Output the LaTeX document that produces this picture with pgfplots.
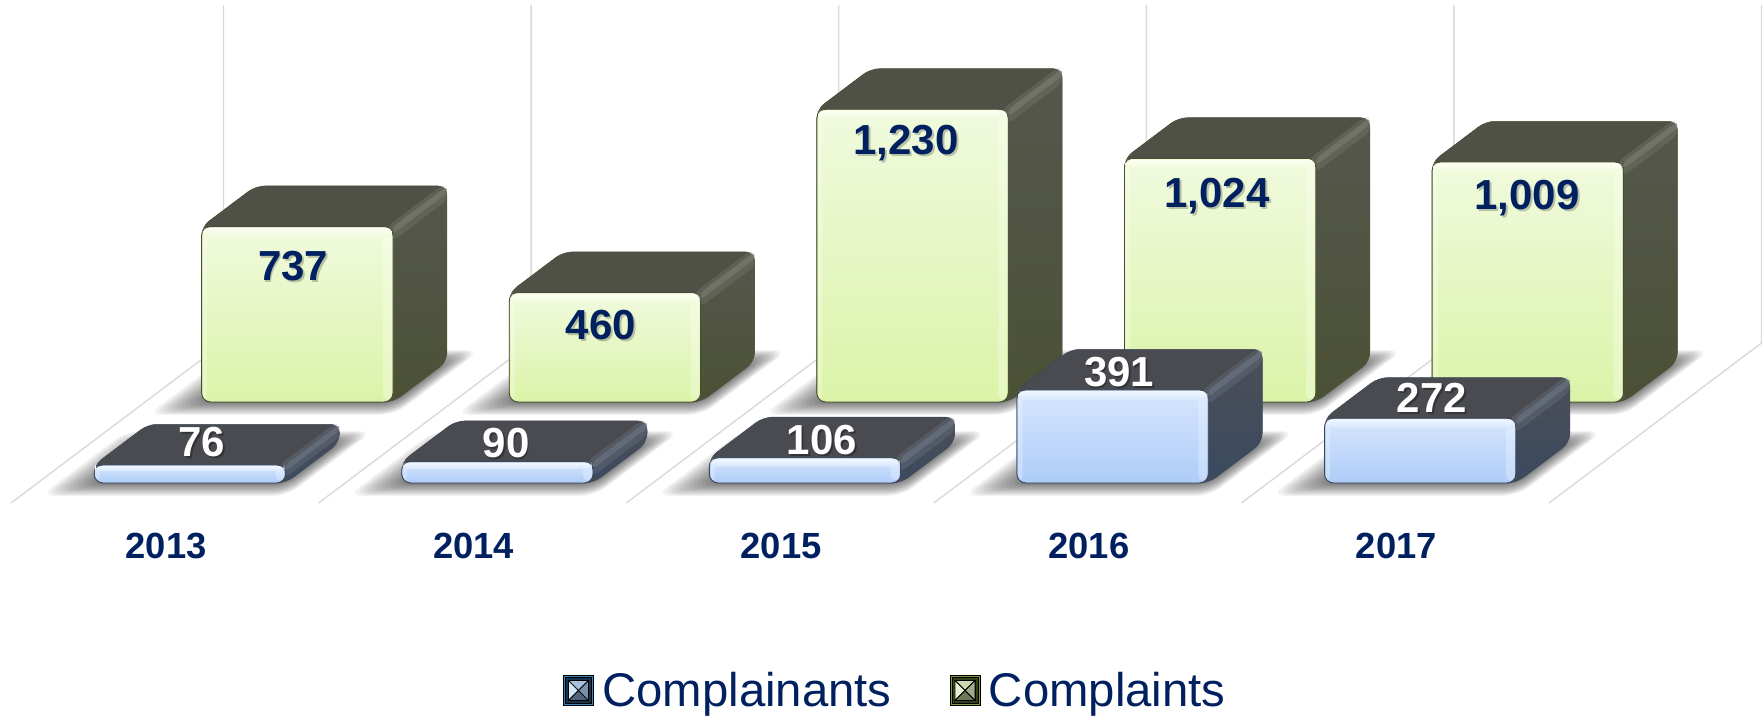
\documentclass[border=0pt]{standalone}
\usepackage{fontspec}
\setmainfont{Liberation Sans}
\usepackage{pgfplots}
\usepackage{pgfplotstable}
\pgfplotsset{compat=1.18}

\definecolor{navy}{RGB}{0,32,96}
\definecolor{gridc}{RGB}{217,217,217}
% complaints
\definecolor{gTop}{RGB}{79,81,71}
\definecolor{gSideT}{RGB}{85,87,77}
\definecolor{gSideB}{RGB}{75,81,53}
\definecolor{gStrip}{RGB}{122,125,112}
\definecolor{gFT}{RGB}{240,250,222}
\definecolor{gFB}{RGB}{219,243,168}
\definecolor{gHi}{RGB}{253,255,240}
\definecolor{gEdge}{RGB}{70,78,48}
% complainants
\definecolor{bTop}{RGB}{73,75,80}
\definecolor{bSideT}{RGB}{76,78,86}
\definecolor{bSideB}{RGB}{58,74,96}
\definecolor{bStrip}{RGB}{110,118,132}
\definecolor{bFT}{RGB}{214,230,253}
\definecolor{bFB}{RGB}{174,204,248}
\definecolor{bHi}{RGB}{240,247,255}
\definecolor{bEdge}{RGB}{58,70,90}

% label positions: x, depth, height on the picture, text
\pgfplotstableread{
x y z lab
0.481 0.631 571 737
1.482 0.631 323 460
2.474 0.631 1088 1,230
3.485 0.631 864 1,024
4.493 0.631 856 1,009
}\complaintlabels
\pgfplotstableread{
x y z lab
0.534 0.125 170 76
1.523 0.125 166 90
2.550 0.125 179 106
3.516 0.125 466 391
4.533 0.125 357 272
}\complainantlabels
\pgfplotstableread{
x y z lab
0.504 0 -181 2013
1.504 0 -181 2014
2.504 0 -181 2015
3.504 0 -181 2016
4.504 0 -181 2017
}\yearlabels

% #1 x left, #2 x right, #3 front depth, #4 value, #5 colour prefix
\newcommand{\barbox}[5]{%
  \pgfmathsetmacro\yb{#3+0.254}%
  \pgfmathsetmacro\hb{min(42,0.35*#4)}%
  \pgfmathsetmacro\zb{#4-\hb}%
  \pgfmathsetmacro\sb{#4-min(30,0.35*#4)}%
  \pgfmathsetmacro\sc{#4-min(60,0.7*#4)}%
  \pgfmathsetmacro\xr{#2-0.032}%
  \pgfmathsetmacro\xs{#2-0.004}%
  \pgfmathsetmacro\xl{#1+0.018}%
  \pgfmathsetmacro\xt{#1+0.004}%
  \pgfmathsetmacro\xe{#2-0.02}%
  \pgfmathsetmacro\zt{#4-5}%
  \addplot3[forget plot,fill=#5Top,draw=#5Edge,line width=0.25pt,rounded corners=4.5pt]
    coordinates {(#1,#3,#4)(#1,\yb,#4)(#2,\yb,#4)(#2,\yb,0)(#2,#3,0)(#1,#3,0)} -- cycle;
  \addplot3[forget plot,top color=#5SideT,bottom color=#5SideB,draw=none,rounded corners=4.5pt]
    coordinates {(#2,#3,#4)(#2,\yb,#4)(#2,\yb,0)(#2,#3,0)} -- cycle;
  \addplot3[forget plot,fill=#5Strip,fill opacity=0.35,draw=none,rounded corners=3pt]
    coordinates {(\xe,#3,#4)(\xe,\yb,#4)(#2,\yb,#4)(#2,\yb,\sc)(#2,#3,\sc)} -- cycle;
  \addplot3[forget plot,fill=#5Strip,fill opacity=0.6,draw=none,rounded corners=2pt]
    coordinates {(#2,#3,#4)(#2,\yb,#4)(#2,\yb,\sb)(#2,#3,\sb)} -- cycle;
  \addplot3[forget plot,top color=#5FT,bottom color=#5FB,draw=#5Edge,line width=0.45pt,rounded corners=4.5pt]
    coordinates {(#1,#3,#4)(#2,#3,#4)(#2,#3,0)(#1,#3,0)} -- cycle;
  \addplot3[forget plot,fill=#5Hi,fill opacity=0.35,draw=none,rounded corners=2pt]
    coordinates {(\xr,#3,\zt)(\xs,#3,\zt)(\xs,#3,12)(\xr,#3,12)} -- cycle;
  \addplot3[forget plot,fill=#5Hi,fill opacity=0.35,draw=none,rounded corners=2pt]
    coordinates {(\xt,#3,\zt)(\xl,#3,\zt)(\xl,#3,12)(\xt,#3,12)} -- cycle;
  \addplot3[forget plot,top color=#5Hi,bottom color=#5FT,draw=none,rounded corners=3pt]
    coordinates {(\xt,#3,\zt)(\xs,#3,\zt)(\xs,#3,\zb)(\xt,#3,\zb)} -- cycle;
}

% soft floor shadow, nested layers: #1 x left, #2 x right, #3 front depth
\newcommand{\floorshadow}[3]{%
  \foreach \m in {1,0.92,0.84,0.76,0.68,0.6,0.52,0.44,0.36,0.28,0.2,0.14,0.08,0.03} {%
    \pgfmathsetmacro\sxa{#1-0.12*\m}%
    \pgfmathsetmacro\sxb{#2+0.06*\m}%
    \pgfmathsetmacro\sya{#3-0.08*\m}%
    \pgfmathsetmacro\syb{#3+0.254+0.07*\m}%
    \edef\shadowplot{\noexpand\addplot3[forget plot,fill=black,fill opacity=0.05,draw=none,rounded corners=7pt]
      coordinates {(\sxa,\sya,0)(\sxa,\syb,0)(\sxb,\syb,0)(\sxb,\sya,0)} -- cycle;}%
    \shadowplot
  }%
}

\begin{document}
\begin{tikzpicture}[x=1pt,y=1pt]
\path[use as bounding box] (-5.5,-107) rectangle (875.5,251.5);
\begin{axis}[
  at={(0,0)}, anchor=origin,
  x={(153.8pt,0pt)}, y={(106.25pt,80pt)}, z={(0pt,0.119pt)},
  xmin=0, xmax=5, ymin=0, ymax=1, zmin=0, zmax=1420,
  hide axis, clip=false,
  legend columns=2,
  legend style={
    at={(axis cs:2.878,0,-788)}, anchor=center,
    draw=none, fill=none, font=\fontsize{23.65}{26}\selectfont,
    text=navy, inner sep=0pt,
    /tikz/column 1/.style={column sep=2.25pt},
    /tikz/column 2/.style={column sep=27pt},
    /tikz/column 3/.style={column sep=2.25pt},
  },
]
% floor and wall grid
\addplot3[forget plot,gridc,line width=0.7pt] coordinates {(0,0,0)(0,1,0)(0,1,1420)};
\addplot3[forget plot,gridc,line width=0.7pt] coordinates {(1,0,0)(1,1,0)(1,1,1420)};
\addplot3[forget plot,gridc,line width=0.7pt] coordinates {(2,0,0)(2,1,0)(2,1,1420)};
\addplot3[forget plot,gridc,line width=0.7pt] coordinates {(3,0,0)(3,1,0)(3,1,1420)};
\addplot3[forget plot,gridc,line width=0.7pt] coordinates {(4,0,0)(4,1,0)(4,1,1420)};
\addplot3[forget plot,gridc,line width=0.7pt] coordinates {(5,0,0)(5,1,0)(5,1,1420)};
% shadows
\floorshadow{0.184}{0.806}{0.631}
\floorshadow{1.184}{1.806}{0.631}
\floorshadow{2.184}{2.806}{0.631}
\floorshadow{3.184}{3.806}{0.631}
\floorshadow{4.184}{4.806}{0.631}
\floorshadow{0.184}{0.806}{0.125}
\floorshadow{1.184}{1.806}{0.125}
\floorshadow{2.184}{2.806}{0.125}
\floorshadow{3.184}{3.806}{0.125}
\floorshadow{4.184}{4.806}{0.125}
% complaints, back row
\barbox{0.184}{0.806}{0.631}{737}{g}
\barbox{1.184}{1.806}{0.631}{460}{g}
\barbox{2.184}{2.806}{0.631}{1230}{g}
\barbox{3.184}{3.806}{0.631}{1024}{g}
\barbox{4.184}{4.806}{0.631}{1009}{g}
% complainants, front row
\barbox{0.184}{0.806}{0.125}{76}{b}
\barbox{1.184}{1.806}{0.125}{90}{b}
\barbox{2.184}{2.806}{0.125}{106}{b}
\barbox{3.184}{3.806}{0.125}{391}{b}
\barbox{4.184}{4.806}{0.125}{272}{b}
% labels
\addplot3[forget plot,draw=none,mark=none,point meta=explicit symbolic,nodes near coords,
  every node near coord/.append style={anchor=center,text=black,opacity=0.22,xshift=0.9pt,yshift=-0.9pt,
    font=\fontsize{21}{24}\selectfont\bfseries}]
  table[x=x,y=y,z=z,meta=lab] {\complaintlabels};
\addplot3[forget plot,draw=none,mark=none,point meta=explicit symbolic,nodes near coords,
  every node near coord/.append style={anchor=center,text=navy,
    font=\fontsize{21}{24}\selectfont\bfseries}]
  table[x=x,y=y,z=z,meta=lab] {\complaintlabels};
\addplot3[forget plot,draw=none,mark=none,point meta=explicit symbolic,nodes near coords,
  every node near coord/.append style={anchor=center,text=black,opacity=0.3,xshift=0.9pt,yshift=-0.9pt,
    font=\fontsize{21}{24}\selectfont\bfseries}]
  table[x=x,y=y,z=z,meta=lab] {\complainantlabels};
\addplot3[forget plot,draw=none,mark=none,point meta=explicit symbolic,nodes near coords,
  every node near coord/.append style={anchor=center,text=white,
    font=\fontsize{21}{24}\selectfont\bfseries}]
  table[x=x,y=y,z=z,meta=lab] {\complainantlabels};
\addplot3[forget plot,draw=none,mark=none,point meta=explicit symbolic,nodes near coords,
  every node near coord/.append style={anchor=center,text=navy,
    font=\fontsize{18.2}{21}\selectfont\bfseries}]
  table[x=x,y=y,z=z,meta=lab] {\yearlabels};
% legend
\addlegendimage{legend image code/.code={
  \begin{scope}[yshift=-7.5pt]
  \path[fill={rgb,255:red,61;green,134;blue,187}] (0pt,0pt) -- (15pt,0pt) -- (15pt,15pt) -- (0pt,15pt) -- cycle;
  \path[fill={rgb,255:red,23;green,51;blue,79}] (1pt,1pt) -- (14pt,1pt) -- (14pt,14pt) -- (1pt,14pt) -- cycle;
  \path[fill={rgb,255:red,150;green,172;blue,204}] (2.5pt,2.5pt) -- (12.5pt,2.5pt) -- (12.5pt,12.5pt) -- (2.5pt,12.5pt) -- cycle;
  \path[fill={rgb,255:red,168;green,192;blue,224}] (2.5pt,12.5pt) -- (12.5pt,12.5pt) -- (7.5pt,7.5pt) -- cycle;
  \path[fill={rgb,255:red,214;green,230;blue,250}] (2.5pt,12.5pt) -- (2.5pt,2.5pt) -- (7.5pt,7.5pt) -- cycle;
  \path[fill={rgb,255:red,124;green,144;blue,170}] (12.5pt,12.5pt) -- (12.5pt,2.5pt) -- (7.5pt,7.5pt) -- cycle;
  \path[fill={rgb,255:red,82;green,100;blue,124}] (2.5pt,2.5pt) -- (12.5pt,2.5pt) -- (7.5pt,7.5pt) -- cycle;
  \end{scope}
}}
\addlegendentry{Complainants}
\addlegendimage{legend image code/.code={
  \begin{scope}[yshift=-7.5pt]
  \path[fill={rgb,255:red,127;green,154;blue,60}] (0pt,0pt) -- (15pt,0pt) -- (15pt,15pt) -- (0pt,15pt) -- cycle;
  \path[fill={rgb,255:red,52;green,64;blue,26}] (1pt,1pt) -- (14pt,1pt) -- (14pt,14pt) -- (1pt,14pt) -- cycle;
  \path[fill={rgb,255:red,185;green,196;blue,156}] (2.5pt,2.5pt) -- (12.5pt,2.5pt) -- (12.5pt,12.5pt) -- (2.5pt,12.5pt) -- cycle;
  \path[fill={rgb,255:red,205;green,216;blue,176}] (2.5pt,12.5pt) -- (12.5pt,12.5pt) -- (7.5pt,7.5pt) -- cycle;
  \path[fill={rgb,255:red,232;green,240;blue,212}] (2.5pt,12.5pt) -- (2.5pt,2.5pt) -- (7.5pt,7.5pt) -- cycle;
  \path[fill={rgb,255:red,160;green,170;blue,136}] (12.5pt,12.5pt) -- (12.5pt,2.5pt) -- (7.5pt,7.5pt) -- cycle;
  \path[fill={rgb,255:red,110;green,120;blue,88}] (2.5pt,2.5pt) -- (12.5pt,2.5pt) -- (7.5pt,7.5pt) -- cycle;
  \end{scope}
}}
\addlegendentry{Complaints}
\end{axis}
\end{tikzpicture}
\end{document}
